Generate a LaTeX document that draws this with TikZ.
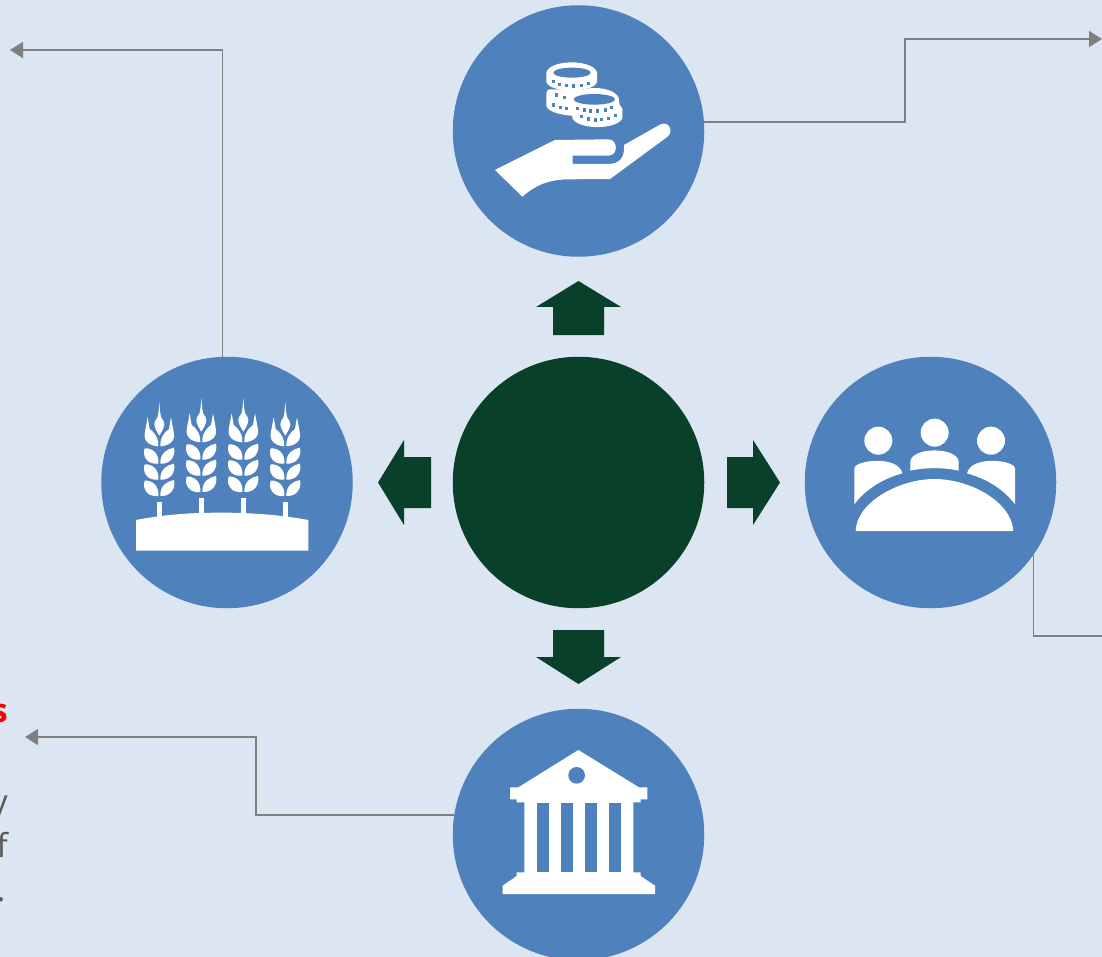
\documentclass[tikz,border=0pt]{standalone}
\usepackage{fontspec}
\setmainfont{Open Sans}
\usetikzlibrary{arrows.meta}
\definecolor{bgblue}{HTML}{DCE6F2}
\definecolor{discblue}{HTML}{4F81BD}
\definecolor{deepgreen}{HTML}{09402A}
\definecolor{linegray}{HTML}{7F7F7F}
\definecolor{textgray}{HTML}{595959}
\tikzset{
  disc/.style={circle,fill=discblue,draw=none,minimum size=251.5pt,inner sep=0pt},
  hubdisc/.style={disc,fill=deepgreen},
  blockarrow/.style={fill=deepgreen,draw=none},
  plainleader/.style={draw=linegray,line width=1.6pt},
  leader/.style={plainleader,-{Triangle[length=13pt,width=16pt]}},
  icon/.style={fill=white,draw=none},
  iconcut/.style={fill=discblue,draw=none},
  cuttext/.style={inner sep=0pt,anchor=base east,font=\fontsize{33pt}{33pt}\selectfont,text=textgray},
  zoomed/.style={x=0.33333pt,y=-0.33333pt}
}
\newcommand{\wheatear}[3]{%
\begin{scope}[shift={(#1,#2)}]
 \fill[icon] (-8.5,#3) rectangle (8.5,397);
 \fill[icon] (0,50) .. controls (-2,80) and (-3,90) .. (-6,98) .. controls (-12,105) and (-15,112) .. (-15,118) .. controls (-14,130) and (-6,142) .. (0,152) .. controls (6,142) and (14,130) .. (15,118) .. controls (15,112) and (12,105) .. (6,98) .. controls (3,90) and (2,80) .. cycle;
 \fill[icon] (-35,97) -- (-43,140) .. controls (-50,170) and (-28,182) .. (-3,184) .. controls (-2,165) and (-8,148) .. (-29,132) -- cycle;
 \fill[icon] (35,97) -- (43,140) .. controls (50,170) and (28,182) .. (3,184) .. controls (2,165) and (8,148) .. (29,132) -- cycle;
 \foreach \r in {0,48,97}{
  \fill[icon] (-3,236+\r) .. controls (-35,240+\r) and (-52,215+\r) .. (-44,190+\r) .. controls (-22,188+\r) and (0,205+\r) .. cycle;
  \fill[icon] (3,236+\r) .. controls (2,205+\r) and (22,192+\r) .. (44,188+\r) .. controls (50,215+\r) and (32,238+\r) .. cycle;
 }
\end{scope}}
\begin{document}
\begin{tikzpicture}[x=1pt,y=-1pt]
\useasboundingbox (0,0) rectangle (1102,957);
\fill[bgblue] (0,0) rectangle (1102,957);
% discs
\node[disc] (coins) at (578.5,131) {};
\node[hubdisc] (hub) at (578.5,482.5) {};
\node[disc] (wheat) at (227,482.5) {};
\node[disc] (people) at (930.5,482.5) {};
\node[disc] (bank) at (578.5,834.5) {};
% block arrows
\fill[blockarrow] (578.5,281) -- (621,307) -- (604,307) -- (604,335) -- (553,335) -- (553,307) -- (536,307) -- cycle;
\fill[blockarrow] (578.5,684) -- (621,657) -- (604,657) -- (604,630) -- (553,630) -- (553,657) -- (536,657) -- cycle;
\fill[blockarrow] (378,482.5) -- (404,440) -- (404,457) -- (431,457) -- (431,508) -- (404,508) -- (404,525) -- cycle;
\fill[blockarrow] (780,482.5) -- (753,440) -- (753,457) -- (727,457) -- (727,508) -- (753,508) -- (753,525) -- cycle;
% connectors
\coordinate (wheatend) at (10,50);
\coordinate (coinsbend) at (905,39);
\coordinate (coinsend) at (1102,39);
\coordinate (peopleend) at (1102,636);
\coordinate (bankbend) at (256,737);
\coordinate (bankend) at (25,737);
\path[leader] (wheat.92) |- (wheatend);
\path[leader] (coins.4) -| (coinsbend) -- (coinsend);
\path[plainleader] (people.325) |- (peopleend);
\path[leader] (bank.171) -| (bankbend) -- (bankend);
% coins and hand
\begin{scope}[shift={(480,40)},zoomed]
 \fill[icon] (45,390) -- (225,300) -- (385,298) .. controls (415,298) and (415,347) .. (385,347) -- (278,347) -- (278,372) -- (385,372) .. controls (420,372) and (435,350) .. (432,315) -- (540,254) .. controls (565,240) and (585,275) .. (560,292) -- (390,417) -- (260,418) .. controls (210,420) and (170,432) .. (127,470) -- cycle;
 % back coin
 \fill[icon] (206,148) .. controls (198,155) and (198,162) .. (199,170) -- (199,198) .. controls (205,218) and (250,226) .. (285,228) -- (365,150) -- cycle;
 % top coin
 \fill[icon] (275,100) ellipse[x radius=76,y radius=33];
 \fill[icon] (199,100) -- (199,125) .. controls (205,160) and (345,160) .. (351,125) -- (351,100) -- cycle;
 \fill[iconcut] (276,98) ellipse[x radius=56,y radius=15];
 % front coins
 \fill[icon] (345,180) ellipse[x radius=72,y radius=36];
 \fill[icon] (273,180) -- (273,205) .. controls (274,212) and (276,212) .. (277,215) -- (277,235) .. controls (295,270) and (410,270) .. (427,235) -- (427,205) .. controls (422,200) and (417,195) .. (417,180) -- cycle;
 \fill[iconcut] (343,178) ellipse[x radius=62,y radius=16];
 % dots
 \foreach \px/\py in {220/125, 238/133, 260/137, 280/138, 305/136, 325/131,
   230/165, 252/173, 220/195, 240/202, 258/206,
   292/205, 312/210, 332/213, 352/213, 375/210, 395/203,
   305/230, 325/237, 345/240, 365/238, 385/235, 405/227}
   \fill[iconcut] (\px-4.5,\py-5) rectangle (\px+4.5,\py+5);
\end{scope}
% wheat
\begin{scope}[shift={(125,385)},zoomed]
 \wheatear{103}{0}{350}
 \wheatear{229}{-12}{350}
 \wheatear{355}{-12}{350}
 \wheatear{481}{0}{350}
 \fill[icon] (33,405) .. controls (120,388) and (200,383) .. (290,383) .. controls (380,383) and (470,390) .. (550,405) -- (550,497) -- (33,497) -- cycle;
\end{scope}
% people
\begin{scope}[shift={(840,405)},zoomed]
 \fill[icon] (115,107) circle[radius=42];
 \fill[icon] (284,83) circle[radius=42];
 \fill[icon] (453,107) circle[radius=42];
 \fill[icon] (211,197) -- (211,170) .. controls (215,125) and (352,125) .. (356,170) -- (356,197) .. controls (310,187) and (255,187) .. cycle;
 \fill[icon] (43,298) -- (43,190) .. controls (45,165) and (175,150) .. (187,205) .. controls (125,222) and (75,255) .. cycle;
 \fill[icon] (525,298) -- (525,190) .. controls (523,165) and (393,150) .. (381,205) .. controls (443,222) and (493,255) .. cycle;
 \fill[icon] (47,378) .. controls (50,290) and (180,222) .. (283,222) .. controls (390,222) and (515,290) .. (520,378) -- cycle;
\end{scope}
% bank
\begin{scope}[shift={(490,740)},zoomed]
 \fill[icon] (265,30) -- (447,142) -- (472,142) -- (472,178) -- (452,178) -- (452,187) -- (430,187) -- (430,397) -- (452,397) -- (452,408) -- (495,437) -- (495,462) -- (38,462) -- (38,437) -- (80,408) -- (80,397) -- (103,397) -- (103,187) -- (80,187) -- (80,178) -- (60,178) -- (60,142) -- (85,142) -- cycle;
 \fill[iconcut] (260,106) circle[radius=25];
 \foreach \a/\b in {140/177,212/248,285/322,357/393}
   \fill[iconcut] (\a,190) rectangle (\b,397);
\end{scope}
% text cut off by the left edge
\node[cuttext,text=red,font=\fontsize{33pt}{33pt}\selectfont\bfseries] (lines) at (8,722) {s};
\node[cuttext] (liney) at (8,813) {y};
\node[cuttext] (linef) at (8,857) {f};
\node[cuttext] (linedot) at (5.5,901) {.};
\end{tikzpicture}
\end{document}
